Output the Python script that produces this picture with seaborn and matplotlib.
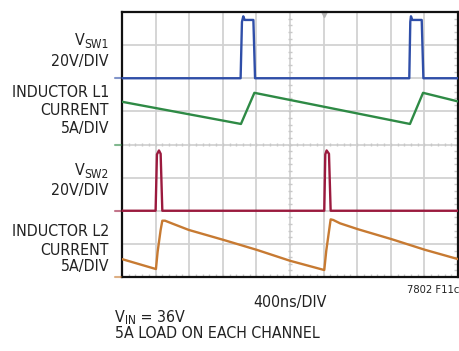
import numpy as np
import pandas as pd
import matplotlib
matplotlib.use("Agg")
import matplotlib.pyplot as plt
from matplotlib import font_manager as fm
import seaborn as sns

# ---- data (time in divisions, amplitude in divisions) ----
sw1_t = [0, 3.53, 3.57, 3.61, 3.65, 3.91, 3.96, 8.55, 8.58, 8.60, 8.64, 8.92, 8.97, 10]
sw1_v = [6, 6, 7.7, 7.87, 7.76, 7.76, 6, 6, 7.7, 7.87, 7.76, 7.76, 6, 6]

il1_t = [0, 3.54, 3.94, 8.57, 8.96, 10]
il1_v = [5.29, 4.62, 5.56, 4.62, 5.56, 5.30]

sw2_t = [0, 1.00, 1.04, 1.10, 1.15, 1.20, 6.02, 6.05, 6.09, 6.16, 6.21, 10]
sw2_v = [2, 2, 3.7, 3.82, 3.72, 2, 2, 3.7, 3.82, 3.72, 2, 2]

il2_t = [0, 1.01, 1.06, 1.15, 1.20, 1.28, 1.53, 1.99, 3.02, 4.01, 5.0,
         6.02, 6.08, 6.21, 6.29, 6.49, 7.03, 8.03, 9.02, 10]
il2_v = [0.54, 0.24, 0.76, 1.42, 1.70, 1.70, 1.60, 1.42, 1.12, 0.82, 0.49,
         0.21, 0.80, 1.74, 1.72, 1.62, 1.44, 1.14, 0.82, 0.54]

ground_levels = [6, 4, 2, 0]
trigger_pos = [6.0]

colors = {"sw1": "#2f4ea8", "il1": "#2e8a45", "sw2": "#9b1a3e", "il2": "#c77a32"}

sns.set_style("white")

# pick a condensed sans if available
cond = None
for f in fm.fontManager.ttflist:
    if ("Narrow" in f.name or "Condensed" in f.name or
            (f.name == "DejaVu Sans" and "condensed" in str(f.stretch))) \
            and f.weight in (400, "normal", "regular") and f.style == "normal":
        cond = f
        break
if cond is not None:
    FP = lambda size: fm.FontProperties(fname=cond.fname, size=size)
    fs, fs_small = 11.4, 8
else:
    FP = lambda size: fm.FontProperties(family="Liberation Sans", size=size)
    fs, fs_small = 11.0, 7.5
plt.rcParams['font.family'] = ['Liberation Sans', 'DejaVu Sans']

W, H = 460, 351
fig = plt.figure(figsize=(W / 100, H / 100), dpi=100)
L, R, T, B = 122, 458, 12, 277
ax = fig.add_axes([L / W, 1 - B / H, (R - L) / W, (B - T) / H])
ax.set_xlim(0, 10)
ax.set_ylim(0, 8)

# grid
for x in range(1, 10):
    ax.axvline(x, color="#d2d2d2", lw=1.3, zorder=1)
for y in range(1, 8):
    ax.axhline(y, color="#d2d2d2", lw=1.3, zorder=1)
mx = np.arange(0, 10.01, 0.2)
ax.vlines(mx, 4 - 0.06, 4 + 0.06, color="#c8c8c8", lw=1.0, zorder=1)
my = np.arange(0, 8.01, 0.2)
ax.hlines(my, 5 - 0.07, 5 + 0.07, color="#c8c8c8", lw=1.0, zorder=1)
ax.hlines(my, 10 - 0.12, 10, color="#c8c8c8", lw=1.0, zorder=1)
ax.vlines(mx, 0, 0.1, color="#c8c8c8", lw=1.0, zorder=1)

traces = [("sw1", sw1_t, sw1_v), ("il1", il1_t, il1_v),
          ("sw2", sw2_t, sw2_v), ("il2", il2_t, il2_v)]
for key, t, v in traces:
    df = pd.DataFrame({"t": t, "v": v})
    sns.lineplot(data=df, x="t", y="v", ax=ax, color=colors[key], lw=1.7,
                 sort=False, estimator=None, zorder=3)

for key, g in zip(["sw1", "il1", "sw2", "il2"], ground_levels):
    ax.plot([-0.2, -0.02], [g, g], color=colors[key], alpha=0.6, lw=1.5,
            clip_on=False, zorder=4)
ax.plot(trigger_pos, [7.93], marker="v", color="#b5b5b5", ms=5, ls="none",
        clip_on=False, zorder=2)

ax.set_xticks([])
ax.set_yticks([])
ax.set_xlabel("")
ax.set_ylabel("")
for s in ax.spines.values():
    s.set_visible(True)
    s.set_color("#111111")
    s.set_linewidth(1.6)

tc = "#222222"
renderer = fig.canvas.get_renderer()


def runs_text(x, y, runs, ha="right"):
    """runs: list of (text, size, dy_px). x,y in pixels from top-left (baseline)."""
    objs = []
    widths = []
    for s, size, dy in runs:
        t = fig.text(0, 0, s, fontproperties=FP(size), color=tc,
                     ha="left", va="baseline")
        widths.append(t.get_window_extent(renderer).width)
        objs.append((t, dy))
    total = sum(widths)
    cx = x - total if ha == "right" else (x - total / 2 if ha == "center" else x)
    for (t, dy), w in zip(objs, widths):
        t.set_position((cx / W, 1 - (y + dy) / H))
        cx += w


def plain(x, y, s, ha="right", size=None):
    runs_text(x, y, [(s, size or fs, 0)], ha)


sub = fs * 0.75
runs_text(109, 45, [("V", fs, 0), ("SW1", sub, 3)])
plain(109, 66, "20V/DIV")
plain(109, 97, "INDUCTOR L1")
plain(109, 115, "CURRENT")
plain(109, 133, "5A/DIV")
runs_text(109, 175, [("V", fs, 0), ("SW2", sub, 3)])
plain(109, 195, "20V/DIV")
plain(109, 236.5, "INDUCTOR L2")
plain(109, 255, "CURRENT")
plain(109, 271.5, "5A/DIV")

plain(290, 307, "400ns/DIV", ha="center")
plain(459, 293, "7802 F11c", size=fs_small)
runs_text(115, 322, [("V", fs, 0), ("IN", sub, 2), (" = 36V", fs, 0)], ha="left")
plain(115, 338.5, "5A LOAD ON EACH CHANNEL", ha="left")

fig.savefig("out.png", dpi=100)
